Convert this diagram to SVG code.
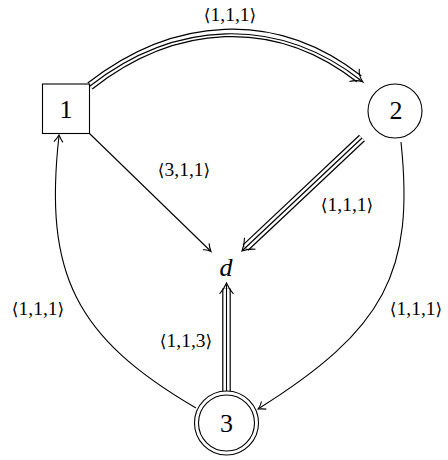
<svg xmlns="http://www.w3.org/2000/svg" width="448" height="460" viewBox="0 0 448 460">
<style>
.n{fill:none;stroke:#000;stroke-width:1.1}
.e{fill:none;stroke:#000;stroke-width:1.1}
.tb{fill:none;stroke:#000;stroke-width:8.6}
.tw{fill:none;stroke:#fff;stroke-width:6.2}
.tm{fill:none;stroke:#000;stroke-width:1.1}
.h{fill:none;stroke:#000;stroke-width:1.1;stroke-linejoin:miter}
.lb{font-family:'Liberation Serif',serif;font-size:19.5px;text-anchor:middle;fill:#000}
.nl{font-family:'Liberation Serif',serif;font-size:26px;text-anchor:middle;fill:#000}
.br{font-family:'DejaVu Serif','DejaVu Sans',serif;font-size:17px}
</style>
<rect width="448" height="460" fill="#fff"/>
<g id="connectors">
  <path class="tb" d="M90,86 C174.3,20.1 274.8,13 359.1,78.9"/>
  <path class="tw" d="M90,86 C174.3,20.1 274.8,13 359.1,78.9"/>
  <path class="tm" d="M90,86 C174.3,20.1 277,14.5 362,81.2"/>
  <path class="h" d="M349.4,81.5 Q356.5,79.5 363,82 Q358.5,76 359.3,68.9"/>
  <path class="tb" d="M362,138 L245.6,247.6"/>
  <path class="tw" d="M362,138 L245.6,247.6"/>
  <path class="tm" d="M362,138 L243,250"/>
  <path class="h" d="M255.5,249.3 Q248.5,248.5 242,251 Q244.5,244.5 244.5,237.7"/>
  <path class="tb" d="M226.5,391 L226.5,288.5"/>
  <path class="tw" d="M226.5,391 L226.5,288.5"/>
  <path class="tm" d="M226.5,391 L226.5,284.5"/>
  <path class="h" d="M219.5,294 Q224,289 226.5,283 Q229,289 233.5,294"/>
  <path class="e" d="M89.5,133.5 L210.5,251"/>
  <path class="h" d="M202.9,249.8 Q207.5,249.3 211,251.5 Q209.4,247.5 209.1,243.4"/>
  <path class="e" d="M196,408 C75.2,337.3 43.6,274.2 59,135.5"/>
  <path class="h" d="M53.9,141.6 Q57,138.5 59,135 Q60.6,139 62.9,142.4"/>
  <path class="e" d="M401,142 C414.6,271.3 385.2,329.5 258,409"/>
  <path class="h" d="M261.5,401.5 Q260.5,406 258,409 Q262.5,408.8 266.3,409.1"/>
</g>
<g id="labels">
  <text class="lb" x="230" y="21"><tspan class="br">⟨</tspan>1,1,1<tspan class="br">⟩</tspan></text>
  <text class="lb" x="184" y="176"><tspan class="br">⟨</tspan>3,1,1<tspan class="br">⟩</tspan></text>
  <text class="lb" x="347" y="211"><tspan class="br">⟨</tspan>1,1,1<tspan class="br">⟩</tspan></text>
  <text class="lb" x="186" y="347"><tspan class="br">⟨</tspan>1,1,3<tspan class="br">⟩</tspan></text>
  <text class="lb" x="38" y="315"><tspan class="br">⟨</tspan>1,1,1<tspan class="br">⟩</tspan></text>
  <text class="lb" x="416" y="315"><tspan class="br">⟨</tspan>1,1,1<tspan class="br">⟩</tspan></text>
</g>
<g id="node1">
  <rect class="n" x="42.5" y="84" width="47" height="49.5"/>
  <text class="nl" x="66" y="118">1</text>
</g>
<g id="node2">
  <circle class="n" cx="395" cy="111" r="27"/>
  <text class="nl" x="396" y="119">2</text>
</g>
<g id="node3">
  <circle class="n" cx="226.5" cy="423" r="32"/>
  <circle class="n" cx="226.5" cy="423" r="28"/>
  <text class="nl" x="226.5" y="432">3</text>
</g>
<g id="noded">
  <text class="nl" x="226" y="276" font-style="italic">d</text>
</g>
</svg>
